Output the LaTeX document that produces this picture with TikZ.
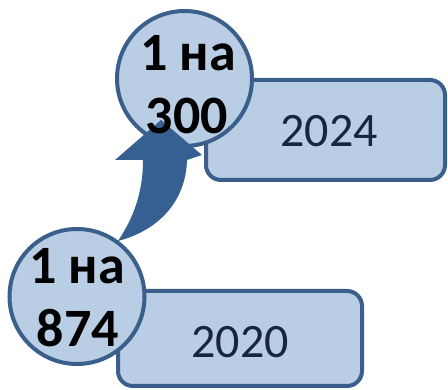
\documentclass[tikz,border=0pt]{standalone}
\usepackage{fontspec}
\setmainfont{Carlito}
\definecolor{boxfill}{RGB}{185,205,229}
\definecolor{boxline}{RGB}{58,95,139}
\definecolor{arrowfill}{RGB}{55,96,146}
\definecolor{yeartext}{RGB}{23,37,64}
\tikzset{
  yearbox/.style={draw=boxline, fill=boxfill, line width=4pt, rounded corners=15pt},
  ratiocircle/.style={circle, draw=boxline, fill=boxfill, line width=4pt, inner sep=0pt, minimum size=135pt},
  ratiotext/.style={font=\fontsize{54}{60}\selectfont\bfseries, text=black, anchor=base, inner sep=0pt},
  yeartextstyle/.style={font=\fontsize{48}{55}\selectfont, text=yeartext, anchor=base, inner sep=0pt},
  bigarrow/.style={fill=arrowfill, draw=none}
}
\begin{document}
\begin{tikzpicture}[x=1pt,y=-1pt]
\useasboundingbox (0,0) rectangle (448,390);
% year boxes
\draw[yearbox] (206,80) rectangle (445,180);
\draw[yearbox] (118,291) rectangle (362,386);
% circles
\node[ratiocircle] (top) at (184.5,78.5) {};
\node[ratiocircle] (bot) at (77,296.5) {};
% curved arrow
\coordinate (tip) at (161,120);
\fill[bigarrow] (tip) -- (202,155) -- (187,160)
  .. controls (186,200) and (160,230) .. (118,241)
  .. controls (132,220) and (143,195) .. (143,160)
  -- (115,160) -- cycle;
% texts
\node[yeartextstyle] (y2024) at (329,146.5) {2024};
\node[yeartextstyle] (y2020) at (240,358) {2020};
\node[ratiotext] (t1) at (188,70.5) {1 на};
\node[ratiotext] (t2) at (187,134) {300};
\node[ratiotext] (b1) at (77,284) {1 на};
\node[ratiotext] (b2) at (78,347) {874};
\end{tikzpicture}
\end{document}
